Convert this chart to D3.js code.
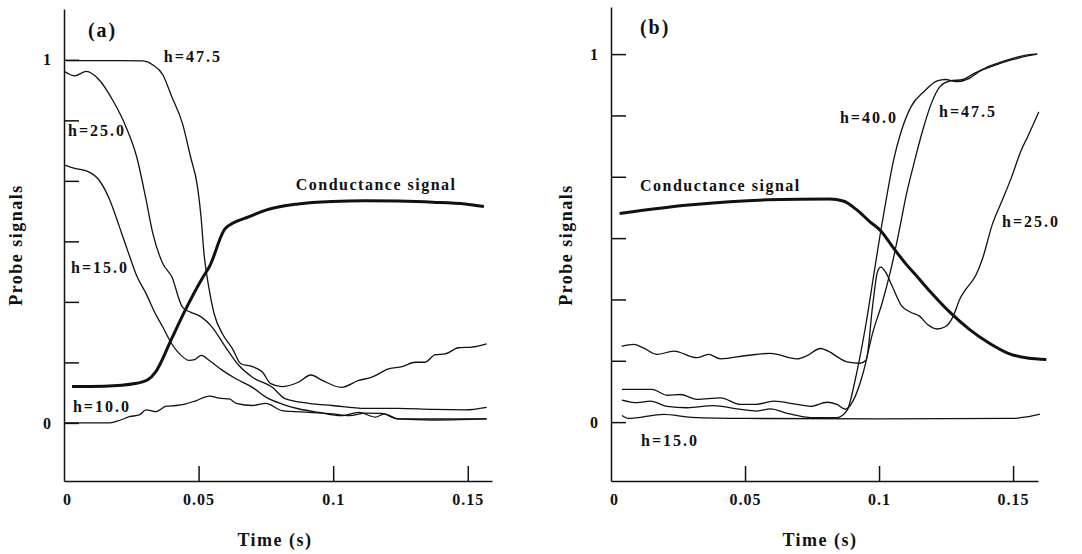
<!DOCTYPE html>
<html>
<head>
<meta charset="utf-8">
<title>Probe signals vs time</title>
<script src="https://cdn.jsdelivr.net/npm/d3@7"></script>
<style>
  body { margin: 0; background: #fff; }
  svg { display: block; }
  text { font-family: "Liberation Serif", "Times New Roman", serif; fill: #111; }
  .tick text { font-size: 16px; font-weight: bold; letter-spacing: 1px; }
  .axis path, .axis line { stroke: #111; stroke-width: 1.5; }
  .title { font-size: 18px; font-weight: bold; letter-spacing: 1.5px; }
  .hlab { font-size: 16px; font-weight: bold; letter-spacing: 2px; }
  .cond { font-size: 16px; font-weight: bold; letter-spacing: 1.5px; }
  .panel { font-size: 20px; font-weight: bold; letter-spacing: 2px; }
</style>
</head>
<body>
<svg id="chart" width="1082" height="554"></svg>
<script>
// ---- data: [time (s), signal] ----
var xTicks = [0, 0.05, 0.1, 0.15];
var yTicks = [0, 1, 2, 3, 4, 5, 6].map(function (i) { return i / 6; });

// panel (a)
var condA = [[0.003,0.10],[0.015,0.101],[0.027,0.109],[0.031,0.118],[0.034,0.14],[0.040,0.232],[0.045,0.31],
  [0.0515,0.40],[0.054,0.43],[0.060,0.536],[0.0688,0.568],[0.075,0.586],[0.087,0.603],[0.0996,0.61],
  [0.112,0.612],[0.124,0.611],[0.137,0.608],[0.149,0.603],[0.156,0.596]];
var h47A = [[0.001,0.998],[0.02,0.998],[0.029,0.997],[0.033,0.986],[0.0367,0.959],[0.040,0.899],[0.044,0.825],
  [0.047,0.733],[0.0496,0.65],[0.0509,0.568],[0.052,0.467],[0.054,0.365],[0.0558,0.30],[0.0589,0.245],
  [0.0626,0.204],[0.0657,0.163],[0.070,0.155],[0.0737,0.14],[0.0768,0.108],[0.081,0.10],[0.087,0.112],
  [0.0917,0.132],[0.096,0.117],[0.103,0.098],[0.1095,0.117],[0.1144,0.126],[0.1206,0.149],[0.1256,0.155],
  [0.1305,0.167],[0.134,0.167],[0.138,0.188],[0.1416,0.19],[0.1465,0.207],[0.1515,0.209],[0.157,0.218]];
var h25A = [[0.0002,0.968],[0.004,0.956],[0.0083,0.968],[0.013,0.945],[0.018,0.89],[0.023,0.816],[0.027,0.733],
  [0.0305,0.614],[0.033,0.522],[0.0367,0.439],[0.040,0.403],[0.044,0.319],[0.047,0.305],[0.050,0.296],
  [0.055,0.264],[0.060,0.209],[0.065,0.158],[0.070,0.126],[0.0774,0.098],[0.0823,0.066],[0.091,0.054],
  [0.0996,0.048],[0.112,0.040],[0.124,0.04],[0.137,0.037],[0.149,0.036],[0.157,0.043]];
var h15A = [[0.0002,0.71],[0.004,0.701],[0.009,0.692],[0.013,0.669],[0.017,0.614],[0.0206,0.54],[0.024,0.467],
  [0.027,0.405],[0.0305,0.356],[0.034,0.30],[0.0367,0.264],[0.040,0.218],[0.0435,0.186],[0.0465,0.172],
  [0.0485,0.174],[0.051,0.186],[0.054,0.172],[0.059,0.144],[0.064,0.121],[0.070,0.098],[0.075,0.071],
  [0.081,0.052],[0.087,0.039],[0.0947,0.029],[0.103,0.02],[0.1095,0.029],[0.1157,0.016],[0.119,0.025],
  [0.124,0.011],[0.137,0.008],[0.147,0.009],[0.157,0.011]];
var h10A = [[0.0002,0],[0.017,0],[0.021,0.008],[0.0243,0.017],[0.028,0.022],[0.0305,0.036],[0.034,0.031],
  [0.038,0.046],[0.0416,0.048],[0.045,0.052],[0.049,0.061],[0.054,0.074],[0.0577,0.068],[0.0614,0.066],
  [0.064,0.054],[0.070,0.048],[0.075,0.054],[0.081,0.034],[0.091,0.029],[0.0996,0.025],[0.106,0.02],
  [0.112,0.027],[0.118,0.026],[0.124,0.011],[0.14,0.011],[0.157,0.011]];

// panel (b)
var condB = [[0.0032,0.567],[0.029,0.59],[0.058,0.604],[0.0816,0.606],[0.0866,0.601],[0.0915,0.578],
  [0.0965,0.545],[0.1006,0.52],[0.105,0.477],[0.11,0.43],[0.1133,0.403],[0.1193,0.353],[0.1265,0.298],
  [0.1337,0.252],[0.141,0.215],[0.1482,0.187],[0.1554,0.174],[0.1624,0.17]];
var h25B = [[0.004,0.206],[0.0085,0.211],[0.012,0.202],[0.0172,0.184],[0.0234,0.193],[0.032,0.175],
  [0.0364,0.184],[0.0408,0.172],[0.0507,0.181],[0.0595,0.187],[0.0694,0.172],[0.073,0.18],[0.0781,0.2],
  [0.0818,0.19],[0.0843,0.178],[0.088,0.164],[0.0928,0.16],[0.0952,0.169],[0.0976,0.316],[0.0994,0.408],
  [0.1006,0.421],[0.1024,0.408],[0.1048,0.371],[0.1084,0.316],[0.112,0.298],[0.1151,0.288],[0.1181,0.265],
  [0.1217,0.253],[0.1247,0.259],[0.1277,0.288],[0.1301,0.334],[0.1325,0.362],[0.1361,0.399],[0.1386,0.444],
  [0.1422,0.536],[0.1458,0.6],[0.1494,0.665],[0.153,0.738],[0.1554,0.775],[0.1596,0.843]];
var h40B = [[0.0041,0.06],[0.0097,0.053],[0.0147,0.057],[0.0209,0.043],[0.0284,0.039],[0.0383,0.045],
  [0.047,0.036],[0.0545,0.03],[0.0595,0.036],[0.0657,0.024],[0.0719,0.0145],[0.0769,0.012],[0.0843,0.012],
  [0.088,0.031],[0.0916,0.132],[0.0952,0.27],[0.0982,0.408],[0.1006,0.518],[0.103,0.619],[0.1054,0.711],
  [0.1084,0.793],[0.112,0.858],[0.1169,0.899],[0.1217,0.927],[0.1247,0.931],[0.1289,0.925],[0.1337,0.934],
  [0.1373,0.952],[0.1434,0.97],[0.1494,0.984],[0.1554,0.995],[0.159,1.0]];
var h47B = [[0.0041,0.089],[0.0153,0.089],[0.0209,0.073],[0.0259,0.075],[0.032,0.062],[0.0408,0.066],
  [0.0483,0.048],[0.054,0.048],[0.0607,0.057],[0.0694,0.048],[0.0744,0.043],[0.0806,0.054],[0.0843,0.048],
  [0.0875,0.035],[0.0904,0.059],[0.094,0.132],[0.0976,0.242],[0.1012,0.325],[0.1042,0.408],[0.1072,0.509],
  [0.1102,0.619],[0.1133,0.711],[0.1163,0.793],[0.1193,0.862],[0.1229,0.913],[0.1265,0.927],[0.1313,0.931],
  [0.1349,0.945],[0.1398,0.963],[0.1458,0.979],[0.1554,0.998],[0.159,1.0]];
var h15B = [[0.0041,0.018],[0.0065,0.01],[0.0197,0.021],[0.03,0.013],[0.05,0.01],[0.1,0.009],[0.15,0.01],
  [0.155,0.014],[0.16,0.022]];

var svg = d3.select("#chart");

var panels = [
  {
    name: "(a)", xr: [64, 492], xmax: 0.159, yr: [481, 9], ydom: [-0.16, 1.14], ylabX: 22, titleX: 275,
    probes: [h47A, h25A, h15A, h10A], cond: condA,
    labels: [["h=47.5", 0.0371, 0.994, "hlab"], ["h=25.0", 0.0015, 0.791, "hlab"], ["h=15.0", 0.0026, 0.413, "hlab"],
             ["h=10.0", 0.0033, 0.030, "hlab"], ["Conductance signal", 0.0861, 0.642, "cond"], ["(a)", 0.0089, 1.063, "panel"]]
  },
  {
    name: "(b)", xr: [611, 1038], xmax: 0.1593, yr: [481, 7], ydom: [-0.16, 1.128], ylabX: 572, titleX: 820,
    probes: [h25B, h40B, h47B, h15B], cond: condB,
    labels: [["h=40.0", 0.0854, 0.8125, "hlab"], ["h=47.5", 0.1224, 0.829, "hlab"], ["h=25.0", 0.1459, 0.530, "hlab"],
             ["h=15.0", 0.0112, -0.065, "hlab"], ["Conductance signal", 0.0108, 0.628, "cond"], ["(b)", 0.0108, 1.054, "panel"]]
  }
];

panels.forEach(function (p) {
  var x = d3.scaleLinear().domain([0, p.xmax]).range(p.xr);
  var y = d3.scaleLinear().domain(p.ydom).range(p.yr);
  var g = svg.append("g");

  g.append("g").attr("class", "axis")
    .attr("transform", "translate(0," + p.yr[0] + ")")
    .call(d3.axisBottom(x).tickValues(xTicks).tickSize(-15).tickSizeOuter(0).tickPadding(13)
      .tickFormat(function (d) { return String(d); }))
    .call(function (a) {
      var zero = a.selectAll(".tick").filter(function (d) { return d === 0; });
      zero.select("line").remove();
      zero.select("text").attr("dx", 3);
    });

  g.append("g").attr("class", "axis")
    .attr("transform", "translate(" + p.xr[0] + ",0)")
    .call(d3.axisLeft(y).tickValues(yTicks).tickSize(-15).tickSizeOuter(0).tickPadding(12)
      .tickFormat(function (d) { return d === 0 ? "0" : (d === 1 ? "1" : ""); }));

  g.selectAll(".axis text").attr("font-family", null);

  var line = d3.line()
    .x(function (d) { return x(d[0]); })
    .y(function (d) { return y(d[1]); })
    .curve(d3.curveMonotoneX);

  g.selectAll("path.probe").data(p.probes).enter().append("path")
    .attr("class", "probe")
    .attr("d", line)
    .attr("fill", "none").attr("stroke", "#111").attr("stroke-width", 1.3);

  g.append("path").datum(p.cond)
    .attr("d", line)
    .attr("fill", "none").attr("stroke", "#111").attr("stroke-width", 3);

  g.selectAll("text.lab").data(p.labels).enter().append("text")
    .attr("class", function (d) { return "lab " + d[3]; })
    .attr("x", function (d) { return x(d[1]); })
    .attr("y", function (d) { return y(d[2]); })
    .text(function (d) { return d[0]; });

  g.append("text").attr("class", "title")
    .attr("x", p.titleX).attr("y", 546).attr("text-anchor", "middle")
    .text("Time (s)");

  g.append("text").attr("class", "title")
    .attr("transform", "translate(" + p.ylabX + ",245) rotate(-90)")
    .attr("text-anchor", "middle")
    .text("Probe signals");
});
</script>
</body>
</html>
